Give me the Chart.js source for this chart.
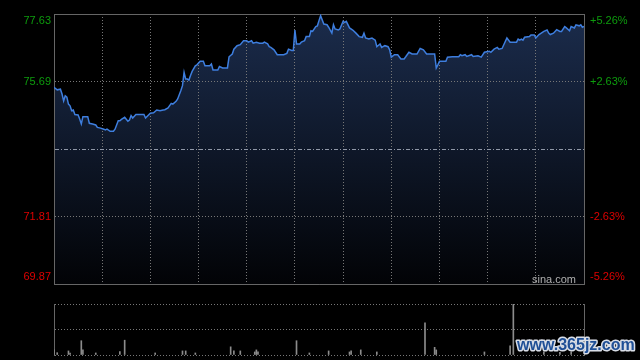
<!DOCTYPE html>
<html>
<head>
<meta charset="utf-8">
<script src="https://cdn.jsdelivr.net/npm/chart.js@4.4.1/dist/chart.umd.min.js"></script>
<style>
  html, body { margin: 0; padding: 0; background: #000; }
  #wrap { position: relative; width: 640px; height: 360px; overflow: hidden; background: #000; }
  #priceChart { position: absolute; left: 0; top: 0; }
  #volChart { position: absolute; left: 0; top: 290px; }
</style>
</head>
<body>
<div id="wrap">
  <canvas id="priceChart" width="640" height="290"></canvas>
  <canvas id="volChart" width="640" height="70"></canvas>
</div>
<script>
// ---- intraday data (minutes from open, HK session 330 min) ----
const minutes = [
  0, 2, 4, 5, 6, 7, 8, 9, 10, 11, 12, 13, 15, 16, 17, 18, 21, 22, 24, 26, 27, 29, 31, 32, 33, 35, 37, 38,
  40, 41, 42, 44, 46, 47, 48, 49, 51, 56, 57, 60, 62, 64, 66, 68,
  69, 71, 73, 74, 76, 77, 79, 80, 81, 82, 83, 84, 85, 86, 88, 89, 91, 93, 94, 97, 98, 99, 102, 103, 105,
  108, 109, 111, 112, 114, 116, 118, 120, 121, 123, 124, 126, 128, 130, 131, 133, 134,
  135, 137, 139, 140, 143, 145, 146, 148, 149, 150, 151, 153, 154, 156, 157, 159, 160, 161, 163, 164, 165,
  166, 168, 170, 171, 173, 174, 175, 177, 178, 180, 181, 182, 184, 186, 188, 190, 192, 193, 194, 196, 198, 200,
  201, 203, 204, 206, 208, 209, 210, 212, 214, 216, 218, 219, 221, 223, 226, 228, 230, 232, 237, 238, 239,
  240, 244, 245, 248, 252, 253, 254, 256, 257, 260, 261,
  264, 266, 268, 271, 272, 274, 276, 277, 279, 282, 284, 288, 289, 290, 291, 292, 293, 296, 297, 299, 300,
  302, 305, 307, 308, 309, 311, 313, 315, 316, 318, 319, 321, 322, 324, 325, 327, 328, 329, 330
];
const prices = [
  75.52, 75.45, 75.47, 75.33, 75.13, 75.28, 75.24, 75.04, 74.99, 74.85, 74.87, 74.74, 74.73, 74.61, 74.47, 74.68, 74.68, 74.49, 74.47, 74.44, 74.37, 74.35, 74.32, 74.30, 74.32, 74.26, 74.26, 74.32,
  74.56, 74.56, 74.60, 74.66, 74.55, 74.58, 74.71, 74.64, 74.74, 74.74, 74.64, 74.78, 74.79, 74.87, 74.85, 74.87,
  74.88, 74.93, 75.06, 75.04, 75.12, 75.19, 75.43, 75.57, 75.95, 75.76, 75.76, 75.73, 75.86, 75.98, 76.14, 76.17, 76.27, 76.27, 76.14, 76.14, 76.19, 76.02, 76.02, 76.12, 76.08,
  76.08, 76.40, 76.48, 76.62, 76.72, 76.75, 76.86, 76.86, 76.82, 76.86, 76.79, 76.82, 76.79, 76.79, 76.82, 76.77, 76.69,
  76.67, 76.60, 76.46, 76.46, 76.46, 76.50, 76.62, 76.58, 76.58, 77.17, 76.77, 76.77, 76.82, 76.86, 76.98, 76.98, 77.15, 77.13, 77.27, 77.29, 77.44,
  77.58, 77.34, 77.32, 77.25, 77.08, 77.32, 77.20, 77.17, 77.20, 77.42, 77.39, 77.42, 77.23, 77.17, 77.08, 76.98, 76.96, 77.08, 76.94, 76.91, 76.94, 76.88,
  76.69, 76.77, 76.67, 76.72, 76.69, 76.60, 76.39, 76.46, 76.46, 76.34, 76.34, 76.40, 76.53, 76.48, 76.48, 76.64, 76.60, 76.48, 76.48, 76.08, 76.17,
  76.27, 76.27, 76.39, 76.40, 76.40, 76.46, 76.43, 76.46, 76.41, 76.46, 76.41,
  76.43, 76.39, 76.53, 76.56, 76.53, 76.62, 76.67, 76.62, 76.64, 76.94, 76.82, 76.82, 76.91, 76.88, 76.91, 76.88, 76.96, 76.98, 77.03, 77.03, 76.94,
  77.04, 77.13, 77.17, 77.08, 77.04, 77.08, 77.18, 77.13, 77.13, 77.27, 77.23, 77.15, 77.27, 77.23, 77.32, 77.29, 77.32, 77.25, 77.27
];
const prevClose = 73.75;
const priceTicks = [69.87, 71.81, 73.75, 75.69, 77.63];
const pctTicks = [-5.26, -2.63, 0, 2.63, 5.26];
const sessionTicks = [0, 30, 60, 90, 120, 150, 180, 210, 240, 270, 300, 330];

const volMinutes = [0, 2, 9, 10, 17, 18, 26, 41, 44, 63, 80, 82, 88, 110, 112, 116, 125, 126, 127, 151, 159,
  171, 184, 185, 191, 201, 231, 237, 238, 268, 284, 286, 305, 315, 322];
const volValues = [10, 4.5, 8, 4, 28, 10, 4, 6.5, 29, 4, 8, 8, 4, 16, 8, 8, 6, 10, 6, 28, 4,
  8, 6, 8, 10, 6, 63, 15, 10, 6, 18, 100, 6, 5, 6];

const FONT = '"Liberation Sans", Arial, sans-serif';
const UP = '#0d9c0d', DOWN = '#dd0000';
const GRID = '#777', EDGE = '#666';

// keep the chart area fixed: no automatic label padding
function fixW(w) {
  return s => { s.width = w; s.paddingTop = 0; s.paddingBottom = 0; s.paddingLeft = 0; s.paddingRight = 0; };
}
function fixH(h) {
  return s => { s.height = h; s.paddingTop = 0; s.paddingBottom = 0; s.paddingLeft = 0; s.paddingRight = 0; };
}

const sinaMark = {
  id: 'sinaMark',
  afterDraw(chart) {
    const c = chart.ctx;
    c.save();
    c.font = '11px ' + FONT;
    c.fillStyle = '#b0b0b0';
    c.textAlign = 'left';
    c.textBaseline = 'alphabetic';
    c.fillText('sina.com', 532, 282.5);
    c.restore();
  }
};

new Chart(document.getElementById('priceChart'), {
  type: 'line',
  data: {
    datasets: [{
      data: minutes.map((m, i) => ({ x: m, y: prices[i] })),
      borderColor: '#3e7ede',
      borderWidth: 1.5,
      pointRadius: 0,
      tension: 0,
      fill: 'start',
      backgroundColor: ctx => {
        const a = ctx.chart.chartArea;
        if (!a) return 'rgba(0,0,0,0)';
        const g = ctx.chart.ctx.createLinearGradient(0, a.top, 0, a.bottom);
        g.addColorStop(0, '#1b2c4c');
        g.addColorStop(1, '#020306');
        return g;
      }
    }]
  },
  options: {
    responsive: false,
    animation: false,
    layout: { padding: { top: 14, bottom: 6, left: 0, right: 0 } },
    plugins: {
      legend: { display: false },
      tooltip: { enabled: false },
      filler: { drawTime: 'beforeDraw' }
    },
    scales: {
      x: {
        type: 'linear', min: 0, max: 330,
        afterBuildTicks: s => { s.ticks = sessionTicks.map(v => ({ value: v })); },
        afterFit: fixH(0),
        ticks: { display: false },
        grid: { color: GRID, drawTicks: false },
        border: { color: EDGE, dash: ctx => (ctx.index === 0 || ctx.index === 11) ? [] : [1, 2] }
      },
      y: {
        position: 'left', min: 69.87, max: 77.63,
        afterBuildTicks: s => { s.ticks = priceTicks.map(v => ({ value: v })); },
        afterFit: fixW(54),
        ticks: {
          padding: 3,
          font: { family: FONT, size: 11 },
          color: ctx => ctx.tick && ctx.tick.value > prevClose ? UP : DOWN,
          callback: (v, i) => {
            if (i === 2) return '';
            const t = v.toFixed(2);
            if (i === 0) return [t, ''];
            if (i === 4) return ['', t];
            return t;
          }
        },
        grid: {
          drawTicks: false,
          color: ctx => ctx.index === 2 ? '#9098a8' : (ctx.index === 4 || ctx.index === 0 ? EDGE : GRID)
        },
        border: {
          color: EDGE,
          dash: ctx => ctx.index === 2 ? [4, 2, 1, 2] : ((ctx.index === 4 || ctx.index === 0) ? [] : [1, 2])
        }
      },
      pct: {
        position: 'right', min: -5.26, max: 5.26,
        afterBuildTicks: s => { s.ticks = pctTicks.map(v => ({ value: v })); },
        afterFit: fixW(56),
        ticks: {
          padding: 6,
          font: { family: FONT, size: 11 },
          color: ctx => ctx.tick && ctx.tick.value > 0 ? UP : DOWN,
          callback: (v, i) => {
            if (v === 0) return '';
            const t = (v > 0 ? '+' : '') + v.toFixed(2) + '%';
            if (i === 0) return [t, ''];
            if (i === 4) return ['', t];
            return t;
          }
        },
        grid: { display: false, drawTicks: false },
        border: { display: true, color: EDGE }
      }
    }
  },
  plugins: [sinaMark]
});

const siteMark = {
  id: 'siteMark',
  afterDraw(chart) {
    const c = chart.ctx;
    c.save();
    c.font = 'bold 16px ' + FONT;
    c.textAlign = 'left';
    c.textBaseline = 'alphabetic';
    c.lineJoin = 'round';
    c.lineWidth = 3;
    c.strokeStyle = '#d8dde6';
    c.strokeText('www.365jz.com', 517, 60);
    c.fillStyle = '#1f4f96';
    c.fillText('www.365jz.com', 517, 60);
    c.restore();
  }
};

new Chart(document.getElementById('volChart'), {
  type: 'bar',
  data: {
    datasets: [{
      data: volMinutes.map((m, i) => ({ x: m, y: volValues[i] })),
      backgroundColor: '#8c8c8c',
      borderWidth: 0,
      barThickness: 1
    }]
  },
  options: {
    responsive: false,
    animation: false,
    layout: { padding: { top: 14, bottom: 5, left: 0, right: 0 } },
    plugins: { legend: { display: false }, tooltip: { enabled: false } },
    scales: {
      x: {
        type: 'linear', min: 0, max: 330, offset: false,
        afterFit: fixH(0),
        ticks: { display: false },
        grid: { display: false, drawTicks: false },
        border: { display: false }
      },
      y: {
        min: 0, max: 100,
        afterBuildTicks: s => { s.ticks = [0, 50, 100].map(v => ({ value: v })); },
        afterFit: fixW(54),
        ticks: { display: false },
        grid: { color: GRID, drawTicks: false },
        border: { color: EDGE, dash: [1, 2] }
      },
      yr: {
        position: 'right', min: 0, max: 100,
        afterFit: fixW(56),
        ticks: { display: false },
        grid: { display: false, drawTicks: false },
        border: { display: true, color: EDGE }
      }
    }
  },
  plugins: [siteMark]
});
</script>
</body>
</html>
